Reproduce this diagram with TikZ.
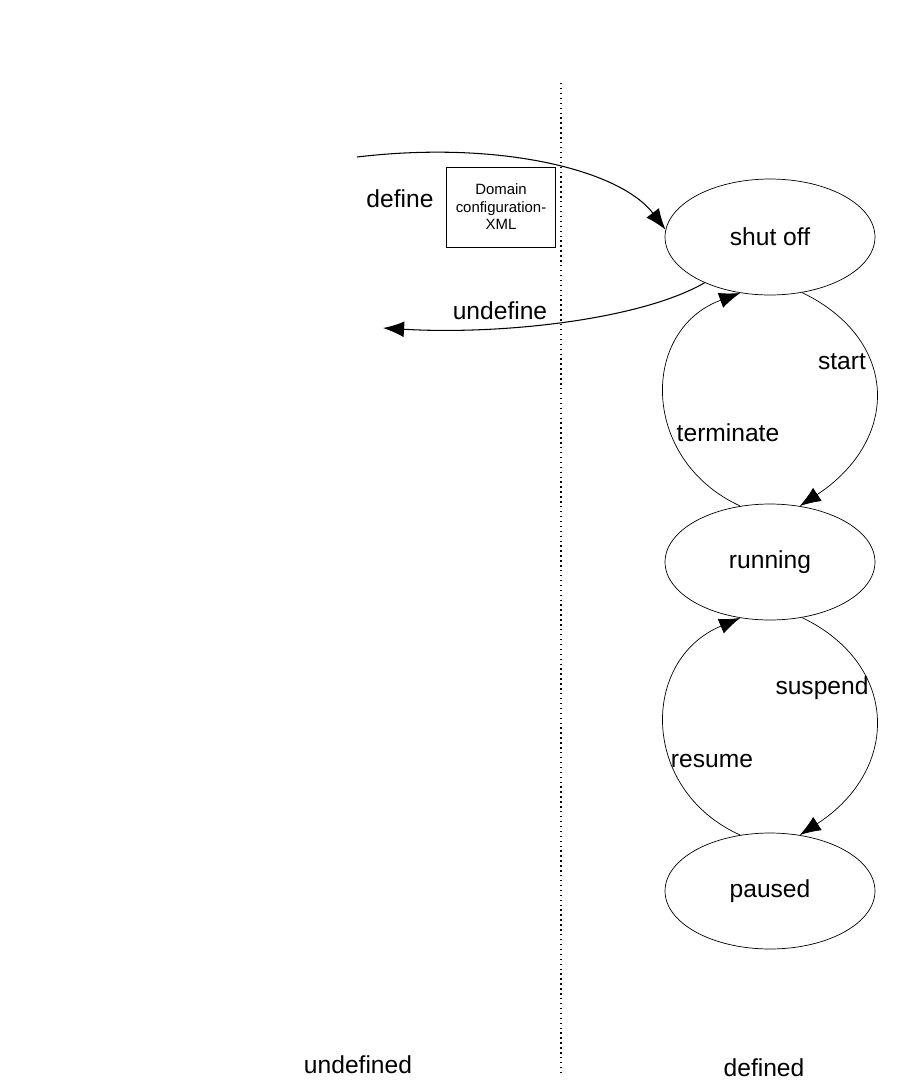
\documentclass[tikz,border=0pt]{standalone}
\usepackage{fontspec}
\setmainfont{Liberation Sans}
\usetikzlibrary{arrows.meta,shapes.geometric}
\begin{document}
\begin{tikzpicture}[x=0.02cm,y=-0.02cm,state/.style={shape=ellipse,draw=black,inner sep=0pt,minimum width=4.2cm,minimum height=2.32cm,font=\fontsize{14}{16}\selectfont},lbl/.style={font=\fontsize{14}{16}\selectfont},trans/.style={draw=black,thin,-{Latex[length=12pt,width=9pt]}},life/.style={draw=black,semithick,-{Latex[length=12pt,width=9pt]}}]
\useasboundingbox (0,0) rectangle (924,1080);
\draw[dotted,thick] (561,83) -- (561,1075);

\node[state] (S) at (770,237) {shut off};
\node[state] (R) at (770,562) {running};
\node[state] (P) at (770,891) {paused};

\node[draw=black,inner sep=0pt,minimum width=2.18cm,minimum height=1.6cm,align=center,font=\fontsize{8.5}{10}\selectfont] (X) at (501,207) {Domain\\configuration-\\XML};

\coordinate (in) at (357,157);
\coordinate (out) at (383,328);
\draw[life] (in) .. controls (500,140) and (620,170) .. (S.176);
\draw[life] (S.215) .. controls (640,320) and (500,335) .. (out);

\draw[trans] (S.-60) .. controls (900,340) and (900,440) .. (R.62);
\draw[trans] (R.118) .. controls (640,460) and (640,330) .. (S.-118);
\draw[trans] (R.-60) .. controls (900,665) and (900,770) .. (P.62);
\draw[trans] (P.118) .. controls (640,790) and (640,660) .. (R.-118);

\node[lbl] (ldef) at (400,199) {define};
\node[lbl] (lund) at (500,311) {undefine};
\node[lbl] (lsta) at (842,362) {start};
\node[lbl] (lter) at (728,433) {terminate};
\node[lbl] (lsus) at (822,688) {suspend};
\node[lbl] (lres) at (712,761) {resume};
\node[lbl] (lu) at (358,1065) {undefined};
\node[lbl] (ld) at (764,1068) {defined};
\end{tikzpicture}
\end{document}
